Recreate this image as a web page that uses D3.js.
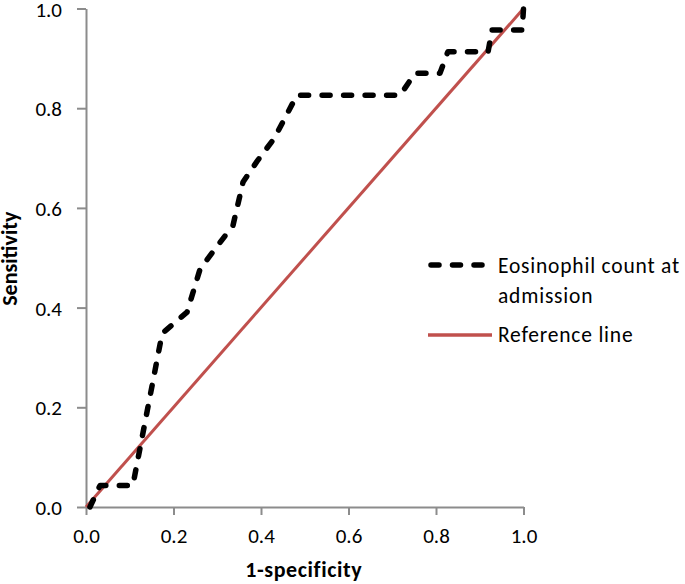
<!DOCTYPE html>
<html>
<head>
<meta charset="utf-8">
<script src="https://cdn.jsdelivr.net/npm/d3@7"></script>
<style>
  html, body { margin: 0; padding: 0; background: #fff; }
  svg { display: block; }
  text { font-family: Carlito, Lato, sans-serif; fill: #000; }
</style>
</head>
<body>
<svg id="chart" width="685" height="584"></svg>
<script>
// 1-specificity (x) and sensitivity (y) of the ROC curve
const fpr = [0.009, 0.032, 0.107, 0.174, 0.231, 0.261, 0.336, 0.359, 0.393, 0.430, 0.482,
             0.718, 0.752, 0.809, 0.827, 0.919, 0.928, 0.997, 1.0];
const tpr = [0.0, 0.043, 0.043, 0.348, 0.391, 0.478, 0.565, 0.652, 0.696, 0.739, 0.826,
             0.826, 0.870, 0.870, 0.913, 0.913, 0.957, 0.957, 1.0];
const refX = [0, 1];
const refY = [0, 1];
const xTicks = [0, 0.2, 0.4, 0.6, 0.8, 1.0];
const yTicks = [0, 0.2, 0.4, 0.6, 0.8, 1.0];
const seriesNames = ["Eosinophil count at", "admission", "Reference line"];
const axisTitles = { x: "1-specificity", y: "Sensitivity" };

const svg = d3.select("#chart");
const mLeft = 86, mRight = 523.5, mTop = 8.5, mBottom = 507;
const x = d3.scaleLinear().domain([0, 1]).range([mLeft, mRight]);
const y = d3.scaleLinear().domain([0, 1]).range([mBottom, mTop]);

const axisColor = "#8c8c8c";
const fontFam = "Carlito, Lato, sans-serif";

// axes
const xAxis = svg.append("g").attr("transform", `translate(0,${mBottom})`)
  .call(d3.axisBottom(x).tickValues(xTicks).tickFormat(d3.format(".1f")).tickSizeInner(8).tickSizeOuter(0));
const yAxis = svg.append("g").attr("transform", `translate(${mLeft},0)`)
  .call(d3.axisLeft(y).tickValues(yTicks).tickFormat(d3.format(".1f")).tickSizeInner(9).tickSizeOuter(0).tickPadding(15));
[xAxis, yAxis].forEach(g => {
  g.select(".domain").attr("stroke", axisColor).attr("stroke-width", 2);
  g.selectAll(".tick line").attr("stroke", axisColor).attr("stroke-width", 2);
  g.selectAll(".tick text").attr("font-size", 21).attr("font-family", fontFam).attr("fill", "#000");
});
xAxis.selectAll(".tick text").attr("y", 36).attr("dy", 0);
yAxis.selectAll(".tick text").attr("dy", "0.36em");

// reference line
const line = d3.line().x(d => x(d[0])).y(d => y(d[1]));
svg.append("path")
  .datum(refX.map((v, i) => [v, refY[i]]))
  .attr("d", line)
  .attr("fill", "none").attr("stroke", "#c0504d").attr("stroke-width", 3);

// ROC curve
svg.append("path")
  .datum(fpr.map((v, i) => [v, tpr[i]]))
  .attr("d", line)
  .attr("fill", "none").attr("stroke", "#000").attr("stroke-width", 5.5)
  .attr("stroke-linecap", "round").attr("stroke-linejoin", "round")
  .attr("stroke-dasharray", "8,13.5");

// axis titles
svg.append("text").attr("x", (mLeft + mRight) / 2 - 1).attr("y", 577)
  .attr("text-anchor", "middle").attr("font-weight", "bold").attr("font-size", 22)
  .attr("letter-spacing", "0.6px")
  .text(axisTitles.x);
svg.append("text").attr("transform", `translate(17,${(mTop + mBottom) / 2 + 1}) rotate(-90)`)
  .attr("text-anchor", "middle").attr("font-weight", "bold").attr("font-size", 22)
  .text(axisTitles.y);

// legend
const lg = svg.append("g").attr("font-size", 21.5).attr("letter-spacing", "0.8px");
lg.append("line").attr("x1", 431).attr("x2", 486).attr("y1", 265).attr("y2", 265)
  .attr("stroke", "#000").attr("stroke-width", 5.5).attr("stroke-linecap", "round")
  .attr("stroke-dasharray", "8,13.5");
lg.append("text").attr("x", 498).attr("y", 273).text(seriesNames[0]);
lg.append("text").attr("x", 498).attr("y", 303).text(seriesNames[1]);
lg.append("line").attr("x1", 428).attr("x2", 492).attr("y1", 335).attr("y2", 335)
  .attr("stroke", "#c0504d").attr("stroke-width", 3.5);
lg.append("text").attr("x", 498).attr("y", 342).text(seriesNames[2]);
</script>
</body>
</html>
